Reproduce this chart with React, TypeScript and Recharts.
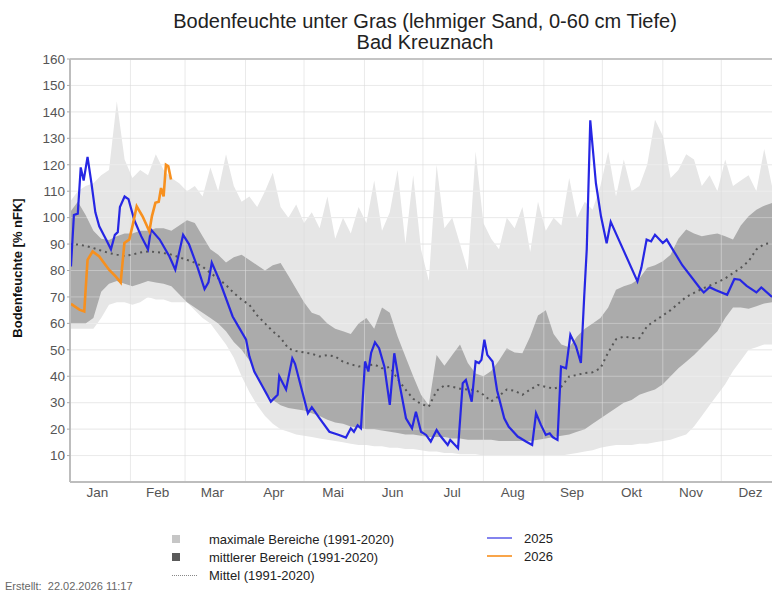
import React from 'react';
import {
  ComposedChart,
  Area,
  Line,
  XAxis,
  YAxis,
  CartesianGrid,
  ReferenceLine,
} from 'recharts';

// day of year (0 = 1. Jan) for the climate bands, every 4 days
const climDays = [
  0, 4, 8, 12, 16, 20, 24, 28, 32, 36, 40, 44, 48, 52, 56, 60, 64, 68, 72, 76,
  80, 84, 88, 92, 96, 100, 104, 108, 112, 116, 120, 124, 128, 132, 136, 140, 144, 148, 152, 156,
  160, 164, 168, 172, 176, 180, 184, 188, 192, 196, 200, 204, 208, 212, 216, 220, 224, 228, 232, 236,
  240, 244, 248, 252, 256, 260, 264, 268, 272, 276, 280, 284, 288, 292, 296, 300, 304, 308, 312, 316,
  320, 324, 328, 332, 336, 340, 344, 348, 352, 356, 360,
];

// maximale Bereiche (1991-2020)
const maxLow = [
  58, 58, 58, 58, 62, 67, 68, 68, 67, 68, 70, 69, 69, 68, 68, 68, 65, 62, 60, 56,
  52, 47, 40, 34, 29, 25, 22, 20, 19, 18, 17.5, 17, 16.5, 16, 15.5, 15, 14.5, 14, 14, 13.5,
  13.5, 13, 13, 12.5, 12.5, 12, 11.5, 11.5, 11, 11, 10.5, 10.5, 10.5, 10, 10, 10, 10, 10, 10, 10,
  10, 10, 10, 10, 10.5, 11, 11.5, 12, 13, 13.5, 14, 14, 14, 14.5, 14.5, 15, 15.5, 16, 17, 18,
  21, 25, 29, 33, 37, 42, 46, 50, 51, 52, 52,
];
const maxHigh = [
  106, 110, 112, 113, 116, 118, 144, 122, 115, 118, 116, 124, 118, 115, 113, 110, 112, 108, 119, 110,
  124, 112, 106, 108, 104, 110, 117, 104, 100, 105, 98, 102, 96, 108, 92, 100, 94, 104, 98, 114,
  95, 102, 118, 90, 116, 88, 76, 120, 96, 100, 90, 80, 125, 98, 92, 88, 100, 96, 104, 87,
  106, 95, 100, 97, 115, 100, 106, 103, 112, 125, 108, 122, 110, 112, 120, 137, 131, 115, 118, 124,
  122, 112, 116, 110, 122, 112, 114, 116, 110, 126, 112,
];

// mittlerer Bereich (1991-2020)
const midLow = [
  60, 60, 60, 62, 72, 75, 76, 75, 74, 75, 76, 75.5, 75, 74, 71, 68, 66, 64, 62, 60,
  57, 53, 50, 46, 40, 34, 31, 29, 28, 27.5, 27, 26, 25, 23.5, 22.5, 22, 21, 20.5, 20, 20,
  19.5, 19, 18.5, 18, 18, 17.5, 17, 17, 17, 16.5, 16.5, 16, 16, 16, 16, 15.5, 15.5, 15.5, 15.5, 15.5,
  16, 16.5, 17, 17.5, 18, 19, 20, 22, 24, 26, 28, 30, 31, 33, 34, 35, 37, 40, 43, 45.5,
  48, 51, 54, 57, 62, 66, 66, 65.5, 66.5, 67.5, 68,
];
const midHigh = [
  102, 106, 101, 95, 92, 91.5, 93, 94, 94, 95, 95, 96, 96, 95, 97, 99, 98, 93, 88, 86,
  83, 85, 86, 84, 82, 80, 82, 82.8, 78, 73, 68, 64, 63, 60, 58, 57, 56, 60, 62, 58,
  66, 64, 55, 47.5, 40, 33, 29, 48, 44, 48, 52, 45, 41, 40, 42, 46, 50.6, 49, 48.7, 55,
  63, 65, 56, 52, 51, 55, 58, 60, 62, 66, 72.7, 74, 75, 77, 81, 82, 83.5, 86, 92, 95.5,
  94, 93, 93.5, 94, 93, 91.7, 97, 100.5, 103, 104.5, 105.5,
];

// Mittel (1991-2020)
const meanValues = [
  90, 89.8, 89.3, 88.5, 87.5, 86.6, 86, 85.5, 86, 86.8, 87.2, 87, 86.6, 86, 85, 84, 83, 81.5, 79, 77,
  74.5, 71.5, 69, 67, 63, 60, 57, 54.5, 50.5, 49.5, 49, 48.5, 47.5, 48, 47.5, 45.5, 44.5, 43.7, 44, 44.5,
  43, 43.5, 39, 35, 31.5, 29.5, 28.5, 34.5, 36.5, 36, 35.3, 35, 34.8, 33, 30.5, 32.5, 35, 34.5, 33, 35,
  36.7, 36, 35.3, 36.1, 39.9, 40.5, 41.2, 41.5, 43, 49, 54, 55, 54.5, 54.4, 59, 61, 63, 65, 67.5, 70,
  71.5, 73, 74.3, 75.5, 77, 79, 81, 83.5, 88, 90, 90.4,
];

// 2025: [day, % nFK]
const soil2025: [number, number][] = [
  [0.5, 81.5], [2, 101], [4, 101.5], [5.5, 119], [7, 114], [9, 123], [11, 113], [13, 102],
  [15, 96.7], [18.5, 91.7], [21, 88], [23, 93.5], [24.5, 94.5], [25.6, 104], [28, 108], [30, 107],
  [33, 99], [36.5, 93], [40, 88], [41.5, 95.5], [46, 91.7], [51, 85.3], [54, 80.3], [58, 93.5],
  [61, 90], [65.5, 81], [69, 73], [71, 75.5], [72.7, 83], [76.5, 76.5], [83.4, 62.6], [87, 58],
  [90.3, 53.8], [92, 47.5], [94.5, 41.8], [98.8, 36], [103, 30.4], [106.5, 33], [107.3, 40],
  [110.8, 35], [114, 46.8], [115.4, 44.7], [122, 26], [124, 28.3], [128, 24.1], [133, 19],
  [138, 17.8], [141.5, 16.8], [144, 20.3], [145.6, 19], [147.5, 21.5], [149.2, 20.3], [151.3, 45.6],
  [153, 41.8], [154.4, 48.8], [156.4, 52.8], [158.5, 50.6], [161.2, 43.7], [164, 29.2], [166.3, 48.7],
  [168.9, 37.4], [172.3, 24.1], [175.4, 20.3], [177.4, 26.6], [180, 19], [182.6, 17.8], [185, 15.3],
  [188, 19.7], [190, 17.4], [193.7, 14], [195, 15.9], [199, 12.8], [201.4, 37.4], [203, 38.6],
  [206, 30.4], [208, 45.6], [209.7, 45], [211, 46.2], [212.5, 53.8], [214, 48.1], [216.7, 45.6],
  [219, 34.7], [222.7, 24.1], [225, 20.9], [229.6, 17.2], [233.8, 15.3], [237, 14], [239, 26],
  [241.5, 21.6], [244, 17.8], [246, 18.4], [247.5, 17], [250, 15.9], [251.8, 43.7], [254.4, 43],
  [256.6, 55.7], [259.5, 51.3], [262, 45], [263.7, 70.2], [265, 88], [266.8, 136.8], [269.7, 113],
  [272.3, 100.5], [275.2, 90.3], [277.3, 98.4], [283.7, 87.9], [291, 75.9], [293, 81], [295.7, 91.7],
  [298, 91], [300, 93.5], [304, 90.4], [306, 91.7], [314, 82], [323, 73.4], [325, 71.7], [328, 73.7],
  [331, 72.6], [337, 70.8], [340.7, 76.8], [343.5, 76.5], [347, 74.2], [352, 71.7], [354.5, 73.6],
  [360, 70],
];

// 2026: [day, % nFK]
const soil2026: [number, number][] = [
  [0.5, 67.4], [4.8, 65.2], [7.3, 64.5], [9, 84], [11.6, 87.2], [15, 85.3], [20, 80.3], [23.4, 77.8],
  [26, 75.5], [27.9, 90.4], [30.4, 91.7], [32, 96.7], [34.2, 104.3], [37.2, 100.5], [40.7, 94.8],
  [42, 100.5], [43.8, 105.6], [45.5, 106], [46.7, 111.2], [48, 108], [49.2, 120], [50.4, 119.4],
  [51.8, 114.4],
];

const monthStarts = [31, 59, 90, 120, 151, 181, 212, 243, 273, 304, 334];
const monthMids = [14, 45, 73, 104.5, 135, 165.5, 196, 227, 257.5, 288, 318.5, 349];
const monthLabels = ['Jan', 'Feb', 'Mar', 'Apr', 'Mai', 'Jun', 'Jul', 'Aug', 'Sep', 'Okt', 'Nov', 'Dez'];
const yTicks = [10, 20, 30, 40, 50, 60, 70, 80, 90, 100, 110, 120, 130, 140, 150, 160];

const clim = climDays.map((day, i) => ({
  day,
  maxRange: [maxLow[i], maxHigh[i]],
  midRange: [midLow[i], midHigh[i]],
  mean: meanValues[i],
}));
const line2025 = soil2025.map(([day, v]) => ({ day, v }));
const line2026 = soil2026.map(([day, v]) => ({ day, v }));

const BLUE = '#2626e4';
const ORANGE = '#f7901e';
const FONT = '"Liberation Sans", Arial, Helvetica, sans-serif';

function LegendRow({ top, left, symbol, label }: { top: number; left: number; symbol: React.ReactNode; label: string }) {
  return (
    <div style={{ position: 'absolute', top, left, height: 16, display: 'flex', alignItems: 'center' }}>
      <div style={{ width: 37, display: 'flex', alignItems: 'center' }}>{symbol}</div>
      <span style={{ fontSize: 13, color: '#222' }}>{label}</span>
    </div>
  );
}

export default function App() {
  return (
    <div
      style={{
        position: 'absolute',
        left: 0,
        top: 0,
        width: 772,
        height: 602,
        background: '#fff',
        fontFamily: FONT,
        overflow: 'hidden',
      }}
    >
      <div
        style={{
          position: 'absolute',
          top: 11,
          left: 70,
          width: 710,
          textAlign: 'center',
          fontSize: 20,
          lineHeight: '21px',
          color: '#222',
        }}
      >
        Bodenfeuchte unter Gras (lehmiger Sand, 0-60 cm Tiefe)
        <br />
        Bad Kreuznach
      </div>

      <div
        style={{
          position: 'absolute',
          left: 18 - 100,
          top: 268 - 8,
          width: 200,
          height: 16,
          lineHeight: '16px',
          textAlign: 'center',
          transform: 'rotate(-90deg)',
          fontSize: 13,
          fontWeight: 'bold',
          color: '#111',
        }}
      >
        Bodenfeuchte [% nFK]
      </div>

      <div style={{ position: 'absolute', left: 0, top: 0 }}>
        <ComposedChart width={772} height={510} margin={{ top: 59, right: 0, left: 0, bottom: 0 }}>
          <XAxis
            dataKey="day"
            type="number"
            domain={[0, 360]}
            ticks={monthMids}
            tickFormatter={(d: number) => monthLabels[monthMids.indexOf(d)]}
            allowDataOverflow
            height={28}
            tickLine={false}
            axisLine={{ stroke: '#bdbdbd', strokeWidth: 2 }}
            tick={{ fill: '#555', fontSize: 13.5, fontFamily: FONT, dy: -3 }}
            interval={0}
          />
          <YAxis
            type="number"
            domain={[0, 160]}
            ticks={yTicks}
            width={70}
            tickSize={3}
            tickLine={{ stroke: '#aaa' }}
            axisLine={{ stroke: '#bdbdbd', strokeWidth: 2 }}
            tick={{ fill: '#555', fontSize: 13.5, fontFamily: FONT }}
            interval={0}
          />
          <CartesianGrid vertical={false} stroke="#e2e2e2" />
          <Area
            data={clim}
            dataKey="maxRange"
            type="linear"
            stroke="none"
            fill="#e6e6e6"
            fillOpacity={1}
            isAnimationActive={false}
          />
          <Area
            data={clim}
            dataKey="midRange"
            type="linear"
            stroke="none"
            fill="#ababab"
            fillOpacity={1}
            isAnimationActive={false}
          />
          {yTicks.map((v) => (
            <ReferenceLine key={`h${v}`} y={v} stroke="#ffffff" strokeOpacity={0.3} />
          ))}
          {monthStarts.map((d) => (
            <ReferenceLine key={`v${d}`} x={d} stroke="#dcdcdc" strokeOpacity={0.6} />
          ))}
          <ReferenceLine y={160} stroke="#c4c4c4" strokeWidth={2} />
          <Line
            data={clim}
            dataKey="mean"
            type="linear"
            stroke="#555"
            strokeWidth={2}
            strokeDasharray="2 4"
            dot={false}
            isAnimationActive={false}
          />
          <Line
            data={line2025}
            dataKey="v"
            type="linear"
            stroke={BLUE}
            strokeWidth={2.2}
            dot={false}
            isAnimationActive={false}
          />
          <Line
            data={line2026}
            dataKey="v"
            type="linear"
            stroke={ORANGE}
            strokeWidth={2.6}
            dot={false}
            isAnimationActive={false}
          />
        </ComposedChart>
      </div>

      <LegendRow
        top={531}
        left={172}
        label="maximale Bereiche (1991-2020)"
        symbol={<div style={{ width: 8, height: 8, background: '#c6c6c6' }} />}
      />
      <LegendRow
        top={549}
        left={172}
        label="mittlerer Bereich (1991-2020)"
        symbol={<div style={{ width: 8, height: 8, background: '#5a5a5a' }} />}
      />
      <LegendRow
        top={567}
        left={172}
        label="Mittel (1991-2020)"
        symbol={<div style={{ width: 25, height: 0, borderTop: '1.5px dotted #888' }} />}
      />
      <LegendRow
        top={530}
        left={487}
        label="2025"
        symbol={<div style={{ width: 25, height: 2, background: '#8383ee' }} />}
      />
      <LegendRow
        top={548}
        left={487}
        label="2026"
        symbol={<div style={{ width: 25, height: 2, background: '#f9a54a' }} />}
      />

      <div style={{ position: 'absolute', left: 5, top: 580, fontSize: 11, color: '#666' }}>
        Erstellt:&nbsp; 22.02.2026 11:17
      </div>
    </div>
  );
}
